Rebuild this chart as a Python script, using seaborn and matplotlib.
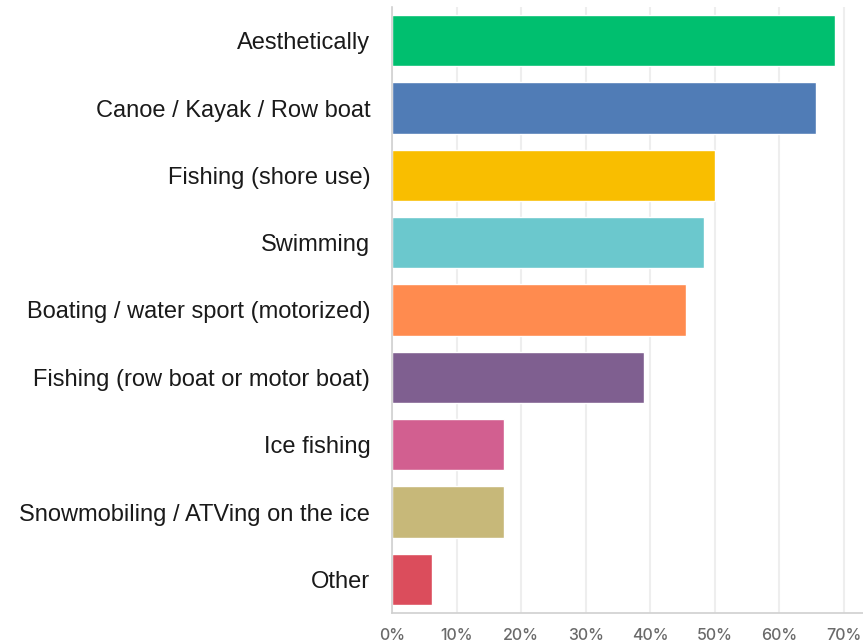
import matplotlib
matplotlib.use("Agg")
import matplotlib.pyplot as plt
import seaborn as sns
import pandas as pd
from matplotlib.ticker import FuncFormatter

categories = [
    "Aesthetically",
    "Canoe / Kayak / Row boat",
    "Fishing (shore use)",
    "Swimming",
    "Boating / water sport (motorized)",
    "Fishing (row boat or motor boat)",
    "Ice fishing",
    "Snowmobiling / ATVing on the ice",
    "Other",
]
percent = [68.6, 65.7, 50.1, 48.3, 45.5, 39.0, 17.4, 17.4, 6.2]
colors = ["#00BF6F", "#507CB6", "#F9BE00", "#6BC8CD", "#FF8B4F",
          "#7F5F90", "#D25F90", "#C7B879", "#DB4D5C"]
x_ticks = [0, 10, 20, 30, 40, 50, 60, 70]

df = pd.DataFrame({"category": categories, "percent": percent})

sns.set_theme(style="white")
plt.rcParams["font.family"] = ["Liberation Sans", "DejaVu Sans"]

fig = plt.figure(figsize=(8.63, 6.43), dpi=100)
ax = fig.add_axes([392.3 / 863, 1 - 613 / 643, 1 - 392.3 / 863, (613 - 7) / 643])

sns.barplot(data=df, y="category", x="percent", hue="category",
            palette=colors, legend=False, orient="h", width=0.76,
            saturation=1, ax=ax, zorder=2)

ax.set_xlim(0, 73)
ax.set_ylim(8.5, -0.5)
ax.set_xticks(x_ticks)
ax.xaxis.set_major_formatter(FuncFormatter(lambda v, p: f"{v:.0f}%"))
ax.grid(axis="x", color="#eeeeee", linewidth=1.5, zorder=0)
ax.set_axisbelow(True)
ax.set_xlabel("")
ax.set_ylabel("")

for side in ["top", "right"]:
    ax.spines[side].set_visible(False)
for side in ["left", "bottom"]:
    ax.spines[side].set_color("#d0d0d0")
    ax.spines[side].set_linewidth(1.2)

ax.tick_params(axis="y", length=0, pad=15.8, labelsize=17, labelcolor="#1a1a1a")
ax.tick_params(axis="x", length=0, pad=11, labelsize=11.5, labelcolor="#6a6a6a")
for lbl in ax.get_xticklabels():
    lbl.set_family(["Inter", "DejaVu Sans"])
    lbl.set_fontweight("medium")

fig.savefig("out.png", dpi=100)
